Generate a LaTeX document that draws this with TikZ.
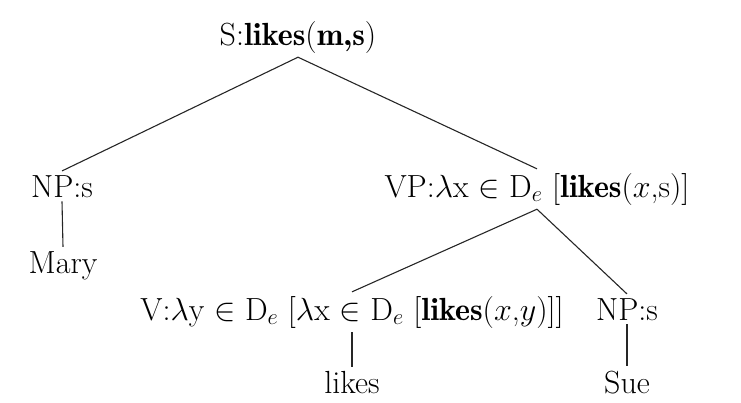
\RequirePackage{fix-cm}
\documentclass[tikz,border=0pt]{standalone}
\newcommand\bft[1]{{\fontseries{b}\selectfont #1}}
\begin{document}
\begin{tikzpicture}[x=1pt,y=-1pt,
  lbl/.style={inner sep=4pt, font=\fontsize{32}{38}\selectfont, anchor=base},
  edge/.style={line width=1.1pt, black!85}]
\useasboundingbox (0,0) rectangle (741,402);
\node[lbl] (S) at (298,45) {S:\bft{likes}(\bft{m,s})};
\node[lbl] (NP1) at (62,197) {NP:s};
\node[lbl] (mary) at (63,273) {Mary};
\node[lbl] (VP) at (537,197) {VP:$\lambda$x $\in$ D$_e$ [\bft{likes}($x$,s)]};
\node[lbl] (V) at (352,320) {V:$\lambda$y $\in$ D$_e$ [$\lambda$x $\in$ D$_e$ [\bft{likes}($x$,$y$)]]};
\node[lbl] (NP2) at (627,320) {NP:s};
\node[lbl] (likes) at (352,393) {likes};
\node[lbl] (sue) at (627,393) {Sue};
\draw[edge] (S.south) -- (NP1.north);
\draw[edge] (S.south) -- (VP.north);
\draw[edge] (NP1.south) -- (mary.north);
\draw[edge] (VP.south) -- (V.north);
\draw[edge] (VP.south) -- (NP2.north);
\draw[edge] (V.south) -- (likes.north);
\draw[edge] (NP2.south) -- (sue.north);
\end{tikzpicture}
\end{document}
